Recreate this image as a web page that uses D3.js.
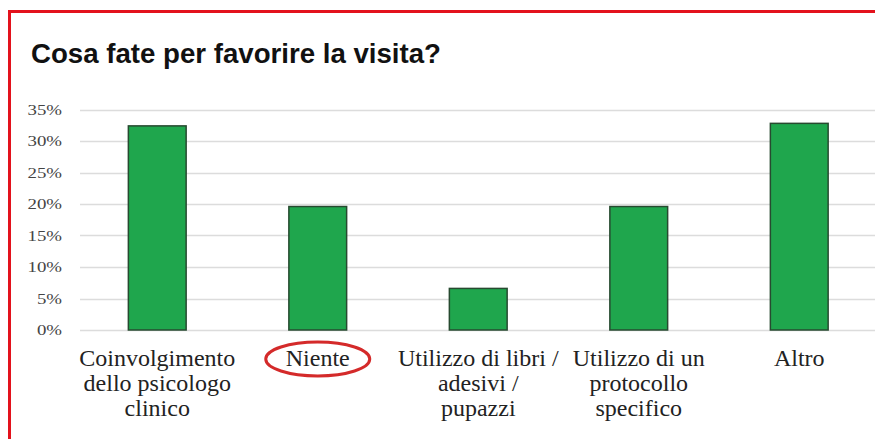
<!DOCTYPE html>
<html>
<head>
<meta charset="utf-8">
<script src="https://cdn.jsdelivr.net/npm/d3@7"></script>
<style>
  body { margin: 0; background: #fff; }
  svg { display: block; }
</style>
</head>
<body>
<svg id="chart" width="875" height="439"></svg>
<script>
// Data
var title = "Cosa fate per favorire la visita?";
var categories = [
  ["Coinvolgimento", "dello psicologo", "clinico"],
  ["Niente"],
  ["Utilizzo di libri /", "adesivi /", "pupazzi"],
  ["Utilizzo di un", "protocollo", "specifico"],
  ["Altro"]
];
var values = [32.4, 19.6, 6.6, 19.6, 32.8];
var yTicks = [0, 5, 10, 15, 20, 25, 30, 35];
var highlighted = "Niente";

var svg = d3.select("#chart");
var width = 875;
var height = 439;

var keys = categories.map(function(d) { return d.join(" "); });

// Scales
var x = d3.scaleBand()
  .domain(keys)
  .range([77, 879.5])
  .paddingInner(0.64)
  .paddingOuter(0.32);

var y = d3.scaleLinear()
  .domain([0, 35])
  .range([330, 109.5]);

// Frame
svg.append("rect")
  .attr("x", 9.5)
  .attr("y", 11.5)
  .attr("width", 900)
  .attr("height", 460)
  .attr("fill", "none")
  .attr("stroke", "#e3121c")
  .attr("stroke-width", 3);

// Title
svg.append("text")
  .attr("x", 31)
  .attr("y", 63)
  .attr("textLength", 410)
  .attr("lengthAdjust", "spacingAndGlyphs")
  .style("font-family", "'Liberation Sans Narrow', 'Arial Narrow', 'Liberation Sans', Arial, sans-serif")
  .style("font-weight", "bold")
  .style("font-size", "27px")
  .attr("fill", "#111")
  .text(title);

// Gridlines
svg.append("g")
  .selectAll("line")
  .data(yTicks)
  .enter()
  .append("line")
  .attr("x1", 80)
  .attr("x2", width)
  .attr("y1", function(d) { return Math.round(y(d)) + 0.5; })
  .attr("y2", function(d) { return Math.round(y(d)) + 0.5; })
  .attr("stroke", "#dcdcdc")
  .attr("stroke-width", 1.5);

// Y axis labels (horizontally stretched like the source)
svg.append("g")
  .selectAll("text")
  .data(yTicks)
  .enter()
  .append("text")
  .attr("transform", function(d) { return "translate(62," + (y(d) + 5) + ") scale(1.3,1)"; })
  .attr("text-anchor", "end")
  .style("font-family", "'Liberation Serif', 'Times New Roman', serif")
  .style("font-size", "14.5px")
  .attr("fill", "#444")
  .text(function(d) { return d + "%"; });

// Bars
svg.append("g")
  .selectAll("rect")
  .data(values)
  .enter()
  .append("rect")
  .attr("x", function(d, i) { return x(keys[i]); })
  .attr("y", function(d) { return y(d); })
  .attr("width", x.bandwidth())
  .attr("height", function(d) { return y(0) - y(d); })
  .attr("fill", "#1fa64d")
  .attr("stroke", "#274a30")
  .attr("stroke-width", 1.5);

// Category labels
var labels = svg.append("g")
  .selectAll("text")
  .data(categories)
  .enter()
  .append("text")
  .attr("text-anchor", "middle")
  .attr("x", function(d, i) { return x(keys[i]) + x.bandwidth() / 2; })
  .attr("y", 366)
  .style("font-family", "'Liberation Serif', 'Times New Roman', serif")
  .style("font-size", "24px")
  .attr("fill", "#222");

labels.selectAll("tspan")
  .data(function(d) { return d; })
  .enter()
  .append("tspan")
  .attr("x", function() { return d3.select(this.parentNode).attr("x"); })
  .attr("dy", function(d, i) { return i === 0 ? 0 : 25; })
  .text(function(d) { return d; });

// Highlight ellipse around "Niente"
var hi = keys.indexOf(highlighted);
svg.append("ellipse")
  .attr("cx", x(keys[hi]) + x.bandwidth() / 2)
  .attr("cy", 359)
  .attr("rx", 52)
  .attr("ry", 17)
  .attr("fill", "none")
  .attr("stroke", "#d42a2a")
  .attr("stroke-width", 3);
</script>
</body>
</html>
